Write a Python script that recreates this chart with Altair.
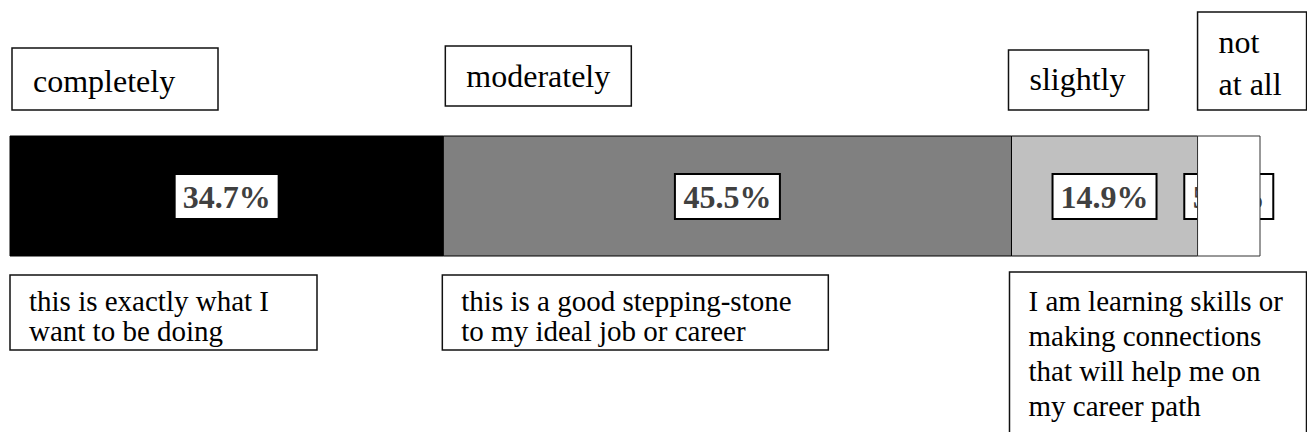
import altair as alt
import pandas as pd

# ---------------- data ----------------
categories = ["completely", "moderately", "slightly", "not at all"]
values = [34.7, 45.5, 14.9, 5.0]
pct_labels = ["34.7%", "45.5%", "14.9%", "5.0%"]
top_lines = [["completely"], ["moderately"], ["slightly"], ["not", "at all"]]
bottom_lines = [
    ["this is exactly what I", "want to be doing"],
    ["this is a good stepping-stone", "to my ideal job or career"],
    ["I am learning skills or", "making connections", "that will help me on", "my career path"],
]

# ---------------- styles / layout (pixels) ----------------
bar_colors = ["#000000", "#808080", "#c0c0c0", "#ffffff"]
FONT = "Liberation Serif"
W = 1250
H = 424
PAD_LEFT = 2
PAD_RIGHT = 47
PAGE = 8
BAR_Y = (136, 256)
LABEL_BOX_Y = (174, 219)
label_box_w = [104, 105, 104, 89]
top_box_dx = [2, 2, -3, 0]
top_box_w = [206, 186, 140, 109]
top_box_y0 = [48, 46, 50, 12]
top_box_y1 = [110, 106, 110, 110]
top_text_y = [92, 87, 90, 53]
top_line_h = [42, 42, 42, 42]
bottom_box_dx = [0, -1, -2]
bottom_box_w = [307, 386, 297]
bottom_box_y0 = [275, 275, 272]
bottom_box_y1 = [350, 350, 470]
bottom_text_y = [311, 311, 311]
bottom_line_h = [30, 30, 35]

total = sum(values)
px = total / W  # data units per pixel

starts, ends = [], []
acc = 0.0
for v in values:
    starts.append(acc)
    acc += v
    ends.append(acc)

bars = pd.DataFrame({
    "category": categories,
    "start": starts,
    "end": ends,
    "mid": [(s + e) / 2 for s, e in zip(starts, ends)],
    "label": pct_labels,
    "bx0": [(s + e) / 2 - w / 2 * px for s, e, w in zip(starts, ends, label_box_w)],
    "bx1": [(s + e) / 2 + w / 2 * px for s, e, w in zip(starts, ends, label_box_w)],
})

def boxes_frame(cats, dxs, ws, y0s, y1s):
    return pd.DataFrame({
        "category": cats,
        "x0": [starts[categories.index(c)] + d * px for c, d in zip(cats, dxs)],
        "x1": [starts[categories.index(c)] + (d + w) * px for c, d, w in zip(cats, dxs, ws)],
        "y0": [y - PAGE for y in y0s],
        "y1": [y - PAGE for y in y1s],
    })

def lines_frame(cats, dxs, lines, ty, lh):
    rows = []
    for c, d, ls, y, h in zip(cats, dxs, lines, ty, lh):
        for i, t in enumerate(ls):
            rows.append({
                "category": c,
                "x0": starts[categories.index(c)] + d * px,
                "y": y - PAGE + i * h,
                "text": t,
            })
    return pd.DataFrame(rows)

top_boxes_df = boxes_frame(categories, top_box_dx, top_box_w, top_box_y0, top_box_y1)
top_text_df = lines_frame(categories, top_box_dx, top_lines, top_text_y, top_line_h)
bot_boxes_df = boxes_frame(categories[:3], bottom_box_dx, bottom_box_w, bottom_box_y0, bottom_box_y1)
bot_text_df = lines_frame(categories[:3], bottom_box_dx, bottom_lines, bottom_text_y, bottom_line_h)

xscale = alt.Scale(domain=[0, total], nice=False, zero=True)
yscale = alt.Scale(domain=[0, H], range=[0, H], nice=False, zero=True)

def X(f):
    return alt.X(f, type="quantitative", scale=xscale, axis=None)

def Y(f):
    return alt.Y(f, type="quantitative", scale=yscale, axis=None)

color = alt.Color("category:N", scale=alt.Scale(domain=categories, range=bar_colors), legend=None)

base_bars = alt.Chart(bars)

bar_main = base_bars.mark_rect(stroke="#000000", strokeWidth=1).encode(
    x=X("start"), x2="end",
    y=alt.value(BAR_Y[0] - PAGE), y2=alt.value(BAR_Y[1] - PAGE),
    color=color,
).transform_filter(alt.datum.category != "not at all")

label_boxes = base_bars.mark_rect(fill="white", stroke="#000000", strokeWidth=2).encode(
    x=X("bx0"), x2="bx1",
    y=alt.value(LABEL_BOX_Y[0] - PAGE), y2=alt.value(LABEL_BOX_Y[1] - PAGE),
)

label_text = base_bars.mark_text(
    font=FONT, fontSize=32, fontWeight="bold", color="#404040",
    align="center", baseline="middle",
).encode(
    x=X("mid"),
    y=alt.value((LABEL_BOX_Y[0] + LABEL_BOX_Y[1]) / 2 - PAGE + 1),
    text="label:N",
)

bar_last = base_bars.mark_rect(stroke="#333333", strokeWidth=1).encode(
    x=X("start"), x2="end",
    y=alt.value(BAR_Y[0] - PAGE), y2=alt.value(BAR_Y[1] - PAGE),
    color=color,
).transform_filter(alt.datum.category == "not at all")

top_boxes = alt.Chart(top_boxes_df).mark_rect(fill="white", stroke="#111111", strokeWidth=1.5).encode(
    x=X("x0"), x2="x1", y=Y("y0"), y2="y1",
)
top_text = alt.Chart(top_text_df).mark_text(
    font=FONT, fontSize=32, color="#000000", align="left", baseline="alphabetic", dx=21,
).encode(x=X("x0"), y=Y("y"), text="text:N")

bottom_boxes = alt.Chart(bot_boxes_df).mark_rect(fill="white", stroke="#111111", strokeWidth=1.5).encode(
    x=X("x0"), x2="x1", y=Y("y0"), y2="y1",
)
bottom_text = alt.Chart(bot_text_df).mark_text(
    font=FONT, fontSize=29, color="#000000", align="left", baseline="alphabetic", dx=19,
).encode(x=X("x0"), y=Y("y"), text="text:N")

chart = alt.layer(
    bar_main, label_boxes, label_text, bar_last,
    top_boxes, top_text, bottom_boxes, bottom_text,
).properties(
    width=W, height=H,
    autosize=alt.AutoSizeParams(type="none"),
    padding={"left": PAD_LEFT, "top": 0, "right": PAD_RIGHT, "bottom": 0},
).configure_view(stroke=None)

chart.save("out.html", embed_options={"renderer": "svg", "actions": False})
